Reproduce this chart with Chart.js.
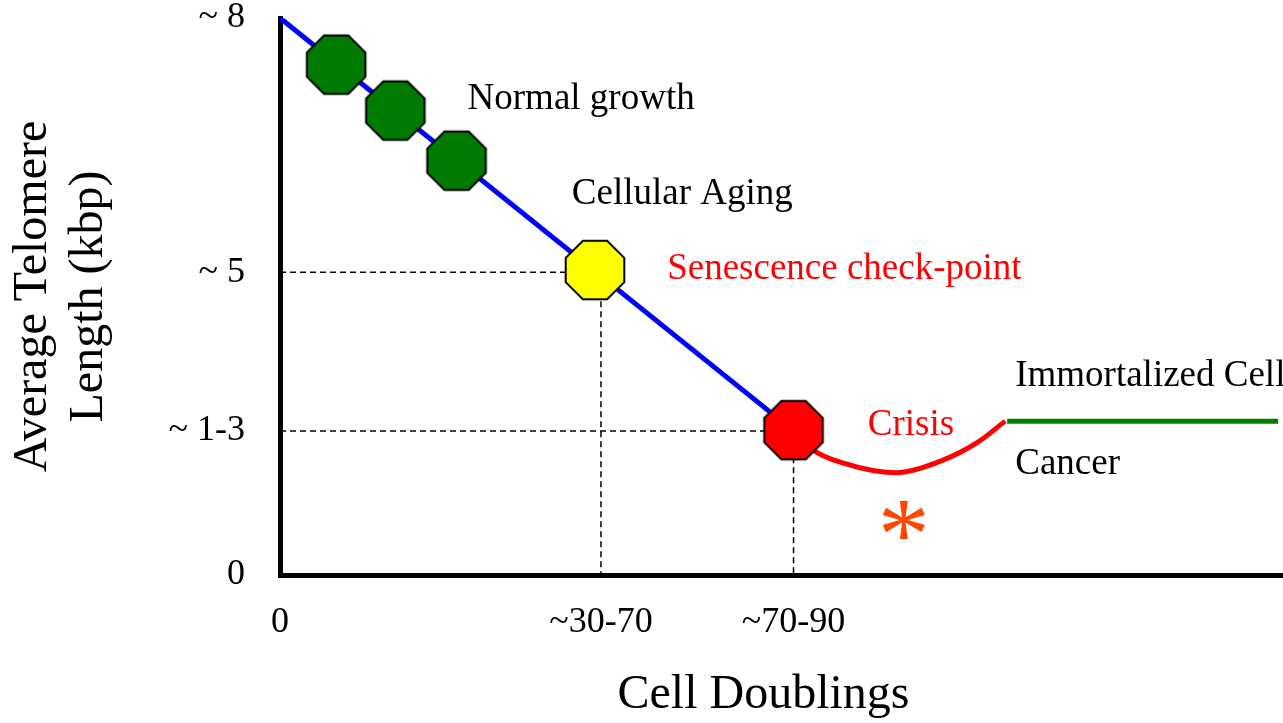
<!DOCTYPE html>
<html>
<head>
<meta charset="utf-8">
<script src="https://cdn.jsdelivr.net/npm/chart.js@4.4.0/dist/chart.umd.min.js"></script>
<style>
  html, body { margin: 0; padding: 0; background: #fff; }
  #wrap { width: 1283px; height: 723px; position: relative; }
</style>
</head>
<body>
<div id="wrap"><canvas id="telomereChart"></canvas></div>
<script>
// Axis ticks (value position + printed label)
const xTickValues = [0, 32, 51.2];
const xTickLabels = ['0', '~30-70', '~70-90'];
const yTickValues = [0, 2.07, 4.35, 8];
const yTickLabels = ['0', '~ 1-3', '~ 5', '~ 8'];

// Telomere shortening (blue line)
const declineX = [0, 51.2];
const declineY = [8, 2.07];

// Octagon markers: 3 normal growth, senescence, crisis
const stageX = [5.6, 11.5, 17.6, 31.4, 51.2];
const stageY = [7.33, 6.67, 5.95, 4.38, 2.08];

// Crisis dip (red curve)
const crisisX = [51.2, 53.1, 56.1, 61.3, 66.1, 69.5, 72.3];
const crisisY = [2.08, 1.80, 1.61, 1.47, 1.65, 1.90, 2.21];

// Immortalized cells plateau (green line)
const plateauX = [72.5, 99.5];
const plateauY = [2.21, 2.21];

// Dashed guides down to the axes
const guide1X = [0, 32, 32];
const guide1Y = [4.35, 4.35, 0];
const guide2X = [0, 51.2, 51.2];
const guide2Y = [2.07, 2.07, 0];

const pts = (xs, ys) => xs.map((x, i) => ({ x: x, y: ys[i] }));

const stageColors = ['#007A00', '#007A00', '#007A00', '#FFFF00', '#FF0000'];

function octagon(fill) {
    const size = 66;
    const c = document.createElement('canvas');
    c.width = c.height = size;
    const g = c.getContext('2d');
    const r = 29.3 / Math.cos(Math.PI / 8);
    g.beginPath();
    for (let i = 0; i < 8; i++) {
        const a = Math.PI / 8 + i * Math.PI / 4;
        g.lineTo(size / 2 + r * Math.cos(a), size / 2 + r * Math.sin(a));
    }
    g.closePath();
    g.fillStyle = fill;
    g.fill();
    g.lineWidth = 2;
    g.strokeStyle = '#000';
    g.stroke();
    return c;
}

// text labels placed in data coordinates
const notes = [
    { text: 'Normal growth', x: 18.7, y: 6.83, color: '#000' },
    { text: 'Cellular Aging', x: 29.1, y: 5.47, color: '#000' },
    { text: 'Senescence check-point', x: 38.6, y: 4.39, color: '#FF0000' },
    { text: 'Crisis', x: 58.6, y: 2.15, color: '#FF0000' },
    { text: 'Immortalized Cell', x: 73.3, y: 2.86, color: '#000' },
    { text: 'Cancer', x: 73.3, y: 1.59, color: '#000' }
];
const star = { x: 62.2, y: 0.79 };

const serif = '"Liberation Serif", "Times New Roman", serif';

const notesPlugin = {
    id: 'notes',
    afterDatasetsDraw(chart) {
        const { ctx, scales: { x, y } } = chart;
        ctx.save();
        ctx.font = '37px ' + serif;
        ctx.textAlign = 'left';
        ctx.textBaseline = 'middle';
        notes.forEach(n => {
            ctx.fillStyle = n.color;
            ctx.fillText(n.text, x.getPixelForValue(n.x), y.getPixelForValue(n.y));
        });
        // asterisk under the crisis dip
        ctx.font = '104px ' + serif;
        ctx.textAlign = 'center';
        ctx.textBaseline = 'alphabetic';
        ctx.fillStyle = '#FF4500';
        const m = ctx.measureText('*');
        const cy = y.getPixelForValue(star.y);
        ctx.fillText('*', x.getPixelForValue(star.x), cy + (m.actualBoundingBoxAscent - m.actualBoundingBoxDescent) / 2);
        ctx.restore();
    }
};

const lineSet = (data, color, width, extra) => Object.assign({
    data: data,
    showLine: true,
    borderColor: color,
    borderWidth: width,
    pointRadius: 0,
    fill: false
}, extra || {});

new Chart(document.getElementById('telomereChart'), {
    type: 'scatter',
    data: {
        datasets: [
            {
                data: pts(stageX, stageY),
                pointStyle: stageColors.map(octagon),
                backgroundColor: stageColors,
                order: 0
            },
            lineSet(pts(declineX, declineY), '#0000FF', 5, { order: 1 }),
            lineSet(pts(crisisX, crisisY), '#FF0000', 5, { cubicInterpolationMode: 'monotone', order: 1 }),
            lineSet(pts(plateauX, plateauY), '#008000', 5, { order: 1 }),
            lineSet(pts(guide1X, guide1Y), '#000', 1.5, { borderDash: [6, 4], order: 2 }),
            lineSet(pts(guide2X, guide2Y), '#000', 1.5, { borderDash: [6, 4], order: 2 })
        ]
    },
    options: {
        responsive: true,
        maintainAspectRatio: false,
        animation: false,
        layout: { autoPadding: false, padding: { top: 18, right: 0, left: 0, bottom: 0 } },
        plugins: {
            legend: { display: false },
            tooltip: { enabled: false }
        },
        scales: {
            x: {
                type: 'linear',
                min: 0,
                max: 100,
                grid: { display: false, drawTicks: false },
                border: { display: true, color: '#000', width: 5 },
                afterBuildTicks: s => { s.ticks = xTickValues.map(v => ({ value: v })); },
                afterFit: s => {
                    s.height = 148;
                    s.paddingLeft = 0;
                    s.paddingRight = 0;
                },
                ticks: {
                    autoSkip: false,
                    maxRotation: 0,
                    padding: 30,
                    color: '#000',
                    font: { family: serif, size: 36, lineHeight: 1 },
                    callback: (v, i) => xTickLabels[i]
                },
                title: {
                    display: true,
                    text: 'Cell Doublings\u00a0\u00a0\u00a0',
                    color: '#000',
                    font: { family: serif, size: 48, lineHeight: 1 },
                    padding: { top: 0, bottom: 4 }
                }
            },
            y: {
                type: 'linear',
                min: 0,
                max: 8,
                grid: { display: false, drawTicks: false },
                border: { display: true, color: '#000', width: 5 },
                afterBuildTicks: s => { s.ticks = yTickValues.map(v => ({ value: v })); },
                afterFit: s => {
                    s.width = 280;
                    s.paddingTop = 0;
                    s.paddingBottom = 0;
                },
                ticks: {
                    autoSkip: false,
                    padding: 35,
                    color: '#000',
                    font: { family: serif, size: 36, lineHeight: 1 },
                    callback: (v, i) => yTickLabels[i]
                },
                title: {
                    display: true,
                    text: ['Average Telomere', 'Length (kbp)'],
                    color: '#000',
                    font: { family: serif, size: 48, lineHeight: 1.16 },
                    padding: { top: 6, bottom: 0 }
                }
            }
        }
    },
    plugins: [notesPlugin]
});
</script>
</body>
</html>
